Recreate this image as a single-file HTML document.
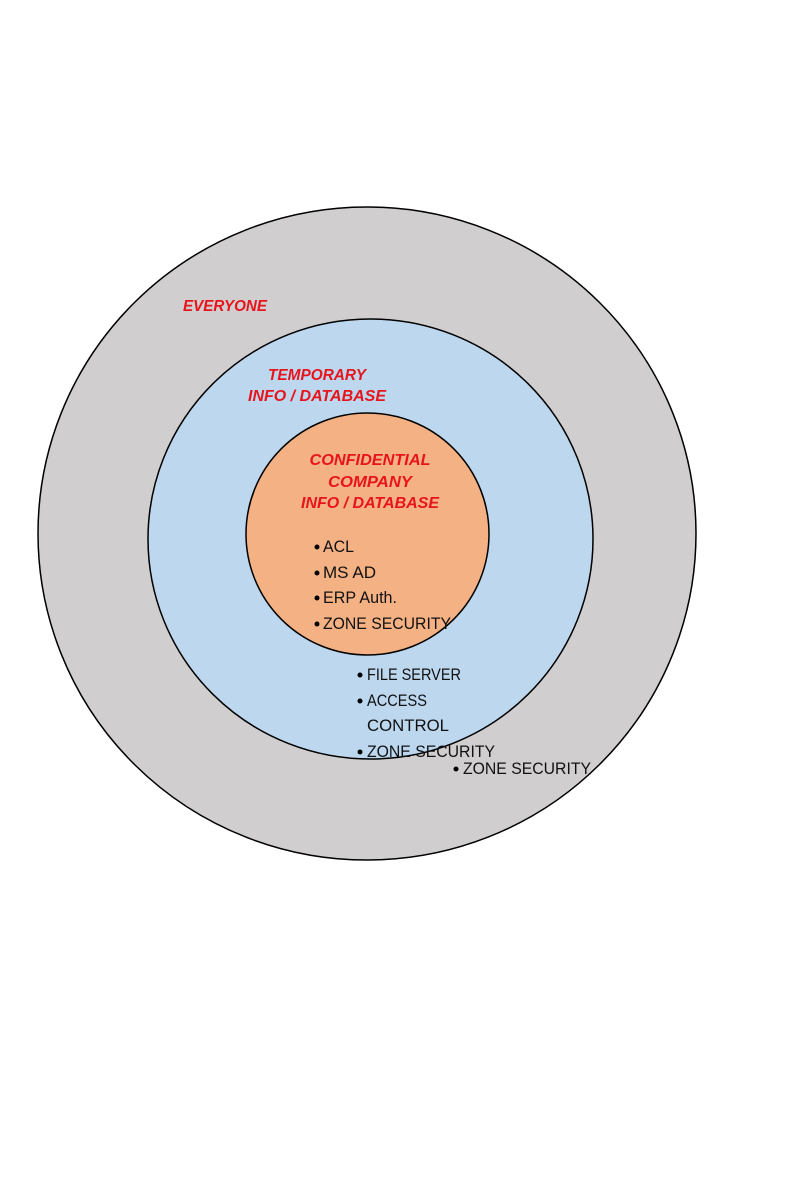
<!DOCTYPE html>
<html><head><meta charset="utf-8"><style>
html,body{margin:0;padding:0;background:#fff;}
svg{display:block;}
.r{fill:#e8141c;font-family:"Liberation Sans",sans-serif;font-style:italic;font-weight:bold;font-size:16px;text-anchor:middle;}
.b{fill:#111;font-family:"Liberation Sans",sans-serif;font-size:17px;}
</style></head><body>
<svg width="795" height="1200" viewBox="0 0 795 1200" xmlns="http://www.w3.org/2000/svg">
<ellipse cx="367" cy="533.5" rx="329" ry="326.5" fill="#d0cece" stroke="#000" stroke-width="1.5"/>
<ellipse cx="370.5" cy="539" rx="222.5" ry="220" fill="#bdd7ee" stroke="#000" stroke-width="1.5"/>
<ellipse cx="367.5" cy="534" rx="121.5" ry="121" fill="#f4b183" stroke="#000" stroke-width="1.5"/>
<text class="r" x="225" y="311" textLength="84" lengthAdjust="spacingAndGlyphs">EVERYONE</text>
<text class="r" x="317" y="380" textLength="98" lengthAdjust="spacingAndGlyphs">TEMPORARY</text>
<text class="r" x="317" y="401" textLength="138" lengthAdjust="spacingAndGlyphs">INFO / DATABASE</text>
<text class="r" x="370" y="465" textLength="121" lengthAdjust="spacingAndGlyphs">CONFIDENTIAL</text>
<text class="r" x="370" y="487" textLength="84" lengthAdjust="spacingAndGlyphs">COMPANY</text>
<text class="r" x="370" y="508" textLength="138" lengthAdjust="spacingAndGlyphs">INFO / DATABASE</text>
<g>
<circle cx="317" cy="547" r="2.5" fill="#000"/><text class="b" x="323" y="552" textLength="31" lengthAdjust="spacingAndGlyphs">ACL</text>
<circle cx="317" cy="573" r="2.5" fill="#000"/><text class="b" x="323" y="578" textLength="53" lengthAdjust="spacingAndGlyphs">MS AD</text>
<circle cx="317" cy="598" r="2.5" fill="#000"/><text class="b" x="323" y="603" textLength="74" lengthAdjust="spacingAndGlyphs">ERP Auth.</text>
<circle cx="317" cy="624" r="2.5" fill="#000"/><text class="b" x="323" y="629" textLength="128" lengthAdjust="spacingAndGlyphs">ZONE SECURITY</text>
<circle cx="360" cy="675" r="2.5" fill="#000"/><text class="b" x="367" y="680" textLength="94" lengthAdjust="spacingAndGlyphs">FILE SERVER</text>
<circle cx="360" cy="701" r="2.5" fill="#000"/><text class="b" x="367" y="706" textLength="60" lengthAdjust="spacingAndGlyphs">ACCESS</text>
<text class="b" x="367" y="731" textLength="82" lengthAdjust="spacingAndGlyphs">CONTROL</text>
<circle cx="360" cy="752" r="2.5" fill="#000"/><text class="b" x="367" y="757" textLength="128" lengthAdjust="spacingAndGlyphs">ZONE SECURITY</text>
<circle cx="456" cy="769" r="2.5" fill="#000"/><text class="b" x="463" y="774" textLength="128" lengthAdjust="spacingAndGlyphs">ZONE SECURITY</text>
</g>
</svg>
</body></html>
